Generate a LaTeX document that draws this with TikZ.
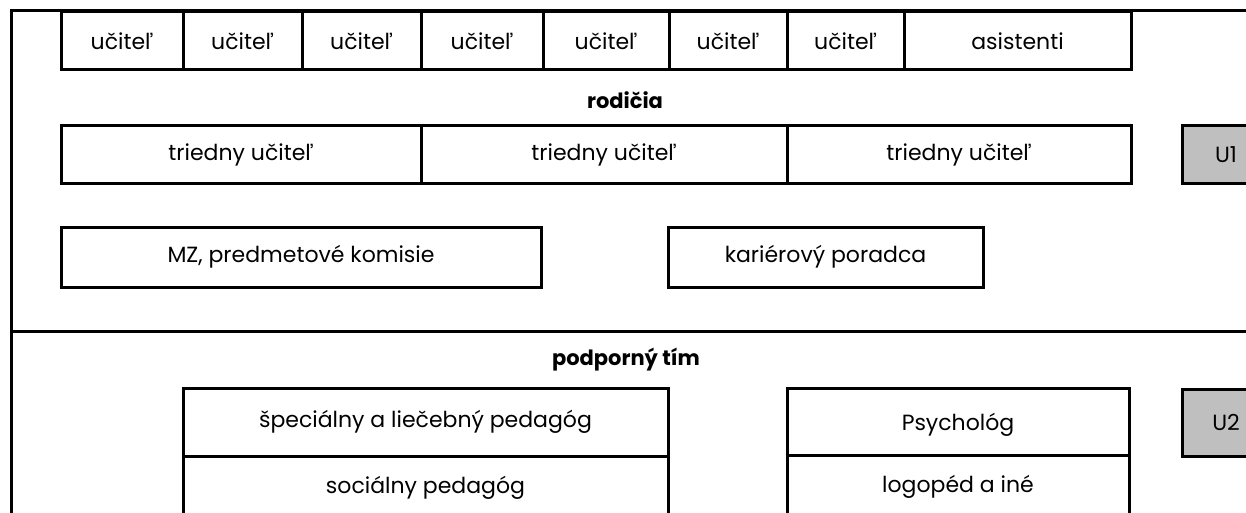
\documentclass[tikz,border=0pt]{standalone}
\usepackage{fontspec}
\setmainfont{Poppins}
\definecolor{cellgray}{rgb}{0.75,0.75,0.75}

\begin{document}
\begin{tikzpicture}[line cap=rect,line join=miter,x=1pt,y=-1pt,line width=3pt,
	cell/.style={draw=black,inner sep=0pt,font=\fontsize{22}{26}\selectfont},
	unit/.style={cell,fill=cellgray},
	head/.style={inner sep=0pt,font=\fontsize{21}{25}\selectfont\bfseries}]
		\clip(0,0) rectangle (1246,513);
		% outer table
		\draw (11,600)-- (11,11)-- (1300,11);
		\draw (11,331)-- (1300,331);
		% first row: teachers
		\node[cell,minimum width=122pt,minimum height=58pt] (uc1) at (122,41) {učiteľ};
		\node[cell,minimum width=119pt,minimum height=58pt] (uc2) at (242.5,41) {učiteľ};
		\node[cell,minimum width=119pt,minimum height=58pt] (uc3) at (361.5,41) {učiteľ};
		\node[cell,minimum width=122pt,minimum height=58pt] (uc4) at (482,41) {učiteľ};
		\node[cell,minimum width=126pt,minimum height=58pt] (uc5) at (606,41) {učiteľ};
		\node[cell,minimum width=118pt,minimum height=58pt] (uc6) at (728,41) {učiteľ};
		\node[cell,minimum width=117pt,minimum height=58pt] (uc7) at (845.5,41) {učiteľ};
		\node[cell,minimum width=227pt,minimum height=58pt] (as) at (1017.5,41) {asistenti};
		\node[head] (rod) at (625,100) {rodičia};
		% class teachers
		\node[cell,minimum width=360pt,minimum height=57pt] (tu1) at (241,154.5) {triedny učiteľ};
		\node[cell,minimum width=366pt,minimum height=57pt] (tu2) at (604,154.5) {triedny učiteľ};
		\node[cell,minimum width=344pt,minimum height=57pt] (tu3) at (959,154.5) {triedny učiteľ};
		\node[unit,minimum width=88pt,minimum height=57pt] (u1) at (1226,154.5) {U1};
		\node[cell,minimum width=480pt,minimum height=60pt] (mz) at (301,257) {MZ, predmetové komisie};
		\node[cell,minimum width=315pt,minimum height=60pt] (kp) at (825.5,257) {kariérový poradca};
		% support team
		\node[head] (pt) at (626,360) {podporný tím};
		\node[cell,minimum width=485pt,minimum height=68pt] (sp) at (425.5,422) {špeciálny a liečebný pedagóg};
		\node[cell,minimum width=485pt,minimum height=64pt] (so) at (425.5,488) {sociálny pedagóg};
		\node[cell,minimum width=342pt,minimum height=67pt,text depth=-4pt] (ps) at (958,421.5) {Psychológ};
		\node[cell,minimum width=342pt,minimum height=64pt] (lo) at (958,487) {logopéd a iné};
		\node[unit,minimum width=88pt,minimum height=67pt] (u2) at (1226,422.5) {U2};
\end{tikzpicture}
\end{document}
